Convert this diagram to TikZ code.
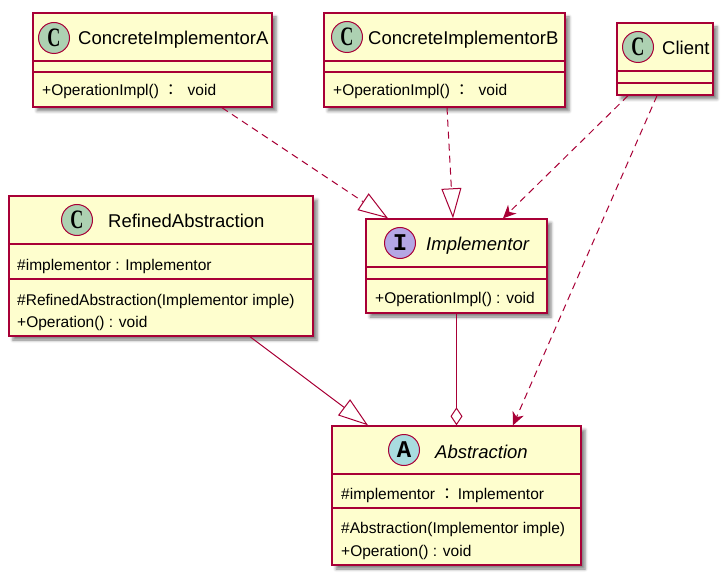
\documentclass[tikz,border=0pt]{standalone}
\usepackage{fontspec}
\setmainfont{Liberation Sans}
\newfontfamily\cjk{Noto Sans CJK TC}
\newfontfamily\circserif{Liberation Serif}
\newfontfamily\circmono{Liberation Mono}
\usetikzlibrary{arrows.meta,shadows.blur,calc}
\definecolor{umlfill}{HTML}{FEFECE}
\definecolor{umlborder}{HTML}{A80036}
\definecolor{cgreen}{HTML}{ADD1B2}
\definecolor{cpurple}{HTML}{B4A7E5}
\definecolor{ccyan}{HTML}{A9DCDF}
\newcommand{\cletterbox}[1]{\scalebox{0.95}[1.4]{#1}}
\begin{document}
\begin{tikzpicture}[x=1pt,y=-1pt,
  classbox/.style={draw=umlborder, fill=umlfill, line width=1.4pt, inner sep=0pt,
    blur shadow={shadow xshift=4pt, shadow yshift=-4pt, shadow blur radius=3pt, shadow opacity=50}},
  sepline/.style={draw=umlborder, line width=1.2pt},
  badge/.style={circle, draw=umlborder, line width=1pt, minimum size=31pt, inner sep=0pt},
  cletter/.style={font=\circserif\bfseries\fontsize{19}{19}\selectfont},
  mletter/.style={font=\circmono\bfseries\fontsize{24}{24}\selectfont},
  cname/.style={anchor=base west, inner sep=0pt, font=\fontsize{18.5}{22}\selectfont},
  iname/.style={anchor=base west, inner sep=0pt, font=\fontsize{18.5}{22}\selectfont\itshape},
  mem/.style={anchor=base west, inner sep=0pt, font=\fontsize{15.5}{18}\selectfont},
  conn/.style={draw=umlborder, line width=1pt},
  realize/.style={conn, dash pattern=on 7pt off 5pt, -{Triangle[length=30pt,width=20pt,fill=white]}},
  inherit/.style={conn, -{Triangle[length=30pt,width=20pt,fill=white]}},
  depend/.style={conn, dash pattern=on 7pt off 5pt, -{Stealth[length=13pt,width=12pt,inset=4pt]}},
  aggr/.style={conn, -{Diamond[length=18pt,width=12pt,fill=white]}}
]
\useasboundingbox (0,0) rectangle (728,580);

% boxes
\node[classbox, minimum width=239pt, minimum height=94pt] (cia) at (152.5,60) {};
\node[classbox, minimum width=241pt, minimum height=94pt] (cib) at (444.5,60) {};
\node[classbox, minimum width=96pt, minimum height=72pt] (client) at (665,59) {};
\node[classbox, minimum width=304pt, minimum height=140pt] (ra) at (161,266) {};
\node[classbox, minimum width=181pt, minimum height=94pt] (impl) at (456.5,266) {};
\node[classbox, minimum width=249pt, minimum height=139pt] (abs) at (456.5,495.5) {};

% separators
\draw[sepline] (cia.west |- 0,61) -- (cia.east |- 0,61);
\draw[sepline] (cia.west |- 0,72) -- (cia.east |- 0,72);
\draw[sepline] (cib.west |- 0,61) -- (cib.east |- 0,61);
\draw[sepline] (cib.west |- 0,72) -- (cib.east |- 0,72);
\draw[sepline] (client.west |- 0,71) -- (client.east |- 0,71);
\draw[sepline] (client.west |- 0,83) -- (client.east |- 0,83);
\draw[sepline] (ra.west |- 0,244) -- (ra.east |- 0,244);
\draw[sepline] (ra.west |- 0,279) -- (ra.east |- 0,279);
\draw[sepline] (impl.west |- 0,267) -- (impl.east |- 0,267);
\draw[sepline] (impl.west |- 0,279) -- (impl.east |- 0,279);
\draw[sepline] (abs.west |- 0,474) -- (abs.east |- 0,474);
\draw[sepline] (abs.west |- 0,508) -- (abs.east |- 0,508);

% badges
\node[badge, fill=cgreen, cletter] (ciaB) at (54,38) {\cletterbox{C}};
\node[badge, fill=cgreen, cletter] (cibB) at (347,37) {\cletterbox{C}};
\node[badge, fill=cgreen, cletter] (clientB) at (638,47) {\cletterbox{C}};
\node[badge, fill=cgreen, cletter] (raB) at (77,220) {\cletterbox{C}};
\node[badge, fill=cpurple, mletter] (implB) at (400,243) {I};
\node[badge, fill=ccyan, mletter] (absB) at (404,450) {A};

% names
\node[cname] (ciaN) at (78,45) {ConcreteImplementorA};
\node[cname] (cibN) at (368,45) {ConcreteImplementorB};
\node[cname] (clientN) at (662,55) {Client};
\node[cname] (raN) at (108,228) {RefinedAbstraction};
\node[iname] (implN) at (426,251) {Implementor};
\node[iname] (absN) at (435,458) {Abstraction};

% members
\node[mem] (ciaM) at (42,96) {+OperationImpl() {\cjk ：}\hspace{9pt}void};
\node[mem] (cibM) at (333,96) {+OperationImpl() {\cjk ：}\hspace{9pt}void};
\node[mem] (raF) at (17,270) {\#implementor : Implementor};
\node[mem] (raM1) at (17,305) {\#RefinedAbstraction(Implementor imple)};
\node[mem] (raM2) at (17,327) {+Operation() : void};
\node[mem] (implM) at (375,303) {+OperationImpl() : void};
\node[mem] (absF) at (341,499) {\#implementor {\cjk ：}\hspace{3pt}Implementor};
\node[mem] (absM1) at (341,533) {\#Abstraction(Implementor imple)};
\node[mem] (absM2) at (341,556) {+Operation() : void};

% connectors
\draw[realize] ([xshift=69.5pt]cia.south) -- ([xshift=-68.5pt]impl.north);
\draw[realize] ([xshift=2.5pt]cib.south) -- ([xshift=-3.5pt]impl.north);
\draw[depend] ([xshift=-37pt]client.south) -- ([xshift=46.5pt]impl.north);
\draw[depend] ([xshift=-8pt]client.south) -- ([xshift=56.5pt]abs.north);
\draw[inherit] ([xshift=89pt]ra.south) -- ([xshift=-88.5pt]abs.north);
\draw[aggr] (impl.south) -- (abs.north);
\end{tikzpicture}
\end{document}
